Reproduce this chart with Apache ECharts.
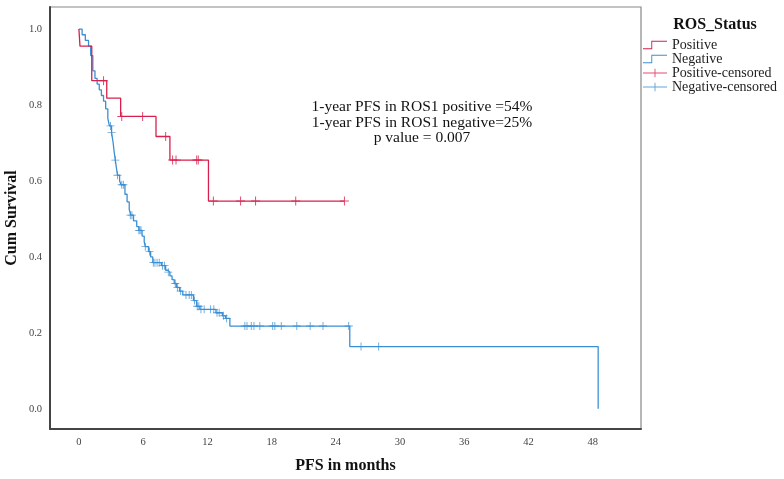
<!DOCTYPE html>
<html>
<head>
<meta charset="utf-8">
<script src="https://cdn.jsdelivr.net/npm/echarts@6/dist/echarts.min.js"></script>
<style>html,body{margin:0;padding:0;background:#fff}#c{width:784px;height:479px}</style>
</head>
<body>
<div id="c"></div>
<script>
// ---- data (months, cumulative survival) ----
const positiveCurve = [[0,1.0],[0.1,0.955],[1.2,0.864],[2.6,0.818],[3.9,0.77],[7.2,0.717],[8.5,0.655],[12.1,0.547],[24.8,0.547]];
const positiveCensored = [[2.3,0.864],[4.0,0.77],[5.95,0.77],[8.1,0.717],[8.75,0.655],[9.07,0.655],[11.0,0.655],[11.15,0.655],[12.56,0.547],[15.1,0.547],[16.5,0.547],[20.25,0.547],[24.8,0.547]];
const negativeCurve = [[0,1.0],[0.3,0.985],[0.6,0.97],[0.9,0.955],[1.1,0.93],[1.3,0.89],[1.5,0.87],[1.7,0.855],[1.9,0.84],[2.1,0.825],[2.3,0.81],[2.5,0.79],[2.7,0.765],[2.85,0.745],[3.05,0.728],[3.2,0.70],[3.3,0.675],[3.4,0.655],[3.5,0.635],[3.6,0.615],[3.8,0.60],[3.95,0.59],[4.3,0.565],[4.5,0.545],[4.7,0.525],[4.85,0.51],[5.1,0.495],[5.4,0.48],[5.6,0.47],[5.9,0.455],[6.1,0.44],[6.2,0.427],[6.5,0.414],[6.7,0.40],[6.9,0.385],[7.7,0.377],[8.1,0.365],[8.3,0.36],[8.5,0.35],[8.7,0.34],[8.9,0.33],[9.1,0.32],[9.4,0.31],[9.7,0.30],[10.7,0.285],[11.0,0.27],[11.3,0.262],[12.8,0.253],[13.4,0.245],[13.7,0.238],[14.1,0.218],[25.3,0.164],[48.5,0.0]];
const negativeCensored = [[2.95,0.745],[3.05,0.728],[3.4,0.655],[3.6,0.615],[4.0,0.59],[4.15,0.59],[4.8,0.51],[4.95,0.51],[5.6,0.47],[5.7,0.47],[5.8,0.47],[6.2,0.427],[6.6,0.414],[6.95,0.385],[7.1,0.385],[7.3,0.385],[7.5,0.385],[7.8,0.377],[8.0,0.377],[8.35,0.36],[9.0,0.33],[9.2,0.32],[9.5,0.31],[10.0,0.30],[10.3,0.30],[10.5,0.30],[10.8,0.285],[11.05,0.27],[11.2,0.27],[11.4,0.262],[11.7,0.262],[12.3,0.262],[12.6,0.262],[12.9,0.253],[13.1,0.253],[13.5,0.245],[13.8,0.238],[15.5,0.218],[15.7,0.218],[16.1,0.218],[16.35,0.218],[16.9,0.218],[18.1,0.218],[18.3,0.218],[18.9,0.218],[20.35,0.218],[21.6,0.218],[22.8,0.218],[25.2,0.218],[26.35,0.164],[28.0,0.164]];
const xTicks = [0,6,12,18,24,30,36,42,48];
const yTicks = [0.0,0.2,0.4,0.6,0.8,1.0];
const seriesNames = ['Positive','Negative','Positive-censored','Negative-censored'];
const annotationLines = ['1-year PFS in ROS1 positive =54%','1-year PFS in ROS1 negative=25%','p value = 0.007'];

const RED = '#d8204c', BLUE = '#3b8fd3';
const SERIF = '"Liberation Serif","DejaVu Serif",serif';
const PLUS = 'path://M4,0h1v9h-1zM0,4h9v1h-9z';
const PLUS_LEG = 'path://M0,4H26V5H0ZM12.5,0H13.5V9H12.5Z';
const STEP = 'path://M0,8H9V0H26V1H10V9H0Z';

const chart = echarts.init(document.getElementById('c'), null, {renderer:'canvas'});
chart.setOption({
  animation:false,
  backgroundColor:'#fff',
  grid:{left:50, top:7, right:143, bottom:50, outerBoundsMode:'none', containLabel:false, show:true, borderColor:'#888', borderWidth:1.2, backgroundColor:'transparent'},
  xAxis:{type:'value', min:-2.7, max:52.5,
    name:'PFS in months', nameLocation:'middle', nameGap:29, nameMoveOverlap:false,
    nameTextStyle:{fontFamily:SERIF, fontWeight:'bold', fontSize:16, color:'#111'},
    axisLine:{show:true, onZero:false, lineStyle:{color:'#444', width:2}},
    axisTick:{show:false}, splitLine:{show:false},
    axisLabel:{customValues:xTicks, fontFamily:SERIF, fontSize:10.5, color:'#444', margin:8}},
  yAxis:{type:'value', min:-0.053, max:1.058,
    name:'Cum Survival', nameLocation:'middle', nameGap:30, nameRotate:90, nameMoveOverlap:false,
    nameTextStyle:{fontFamily:SERIF, fontWeight:'bold', fontSize:16, color:'#111'},
    axisLine:{show:true, onZero:false, lineStyle:{color:'#444', width:2}},
    axisTick:{show:false}, splitLine:{show:false},
    axisLabel:{customValues:yTicks, fontFamily:SERIF, fontSize:10.5, color:'#444', margin:8, formatter:v=>v.toFixed(1)}},
  legend:{orient:'vertical', left:643, top:38, padding:0, itemWidth:24, itemHeight:9, itemGap:0,
    textStyle:{fontFamily:SERIF, fontSize:14, color:'#222', lineHeight:14},
    data:[{name:seriesNames[0], icon:STEP},{name:seriesNames[1], icon:STEP},{name:seriesNames[2], icon:PLUS_LEG},{name:seriesNames[3], icon:PLUS_LEG}]},
  title:{text:'ROS_Status', left:710, top:12, textAlign:'center',
    textStyle:{fontFamily:SERIF, fontWeight:'bold', fontSize:16, color:'#111'}},
  graphic:annotationLines.map((t,i)=>({type:'text', style:{text:t, x:422, y:107+i*15.5, align:'center', verticalAlign:'middle', font:'15.5px '+SERIF, fill:'#111'}})),
  series:[
    {name:seriesNames[0], type:'line', step:'end', data:positiveCurve, showSymbol:false, symbol:'none', color:RED, lineStyle:{color:RED, width:1.3}, z:3},
    {name:seriesNames[1], type:'line', step:'end', data:negativeCurve, showSymbol:false, symbol:'none', color:BLUE, lineStyle:{color:BLUE, width:1.3}, z:2},
    {name:seriesNames[2], type:'scatter', data:positiveCensored, symbol:PLUS, symbolSize:9, color:RED, itemStyle:{color:RED}, z:4},
    {name:seriesNames[3], type:'scatter', data:negativeCensored, symbol:PLUS, symbolSize:8, color:BLUE, itemStyle:{color:BLUE}, z:4}
  ]
});
</script>
</body>
</html>
